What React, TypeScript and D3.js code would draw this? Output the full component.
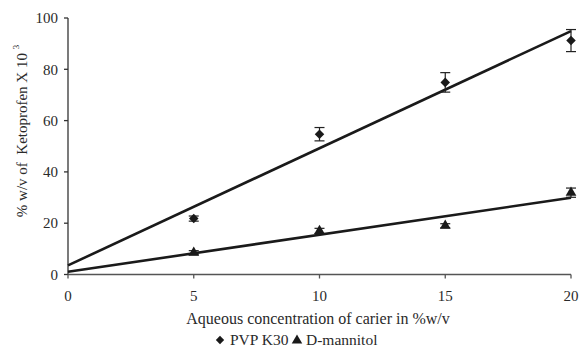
import React from "react";
import * as d3 from "d3";

// Carrier concentration (% w/v)
const concentrations = [5, 10, 15, 20];
// Ketoprofen solubility (% w/v x 10^3), mean and SD
const pvpMeans = [21.8, 54.7, 74.9, 91.2];
const pvpSD = [1.0, 2.6, 3.8, 4.3];
const mannitolMeans = [8.5, 17.0, 19.0, 31.9];
const mannitolSD = [0.8, 1.0, 0.8, 1.8];

const xTicks = [0, 5, 10, 15, 20];
const yTicks = [0, 20, 40, 60, 80, 100];

const W = 581;
const H = 350;
const FONT = "Liberation Serif";
const INK = "#2a2a2a";

// Ordinary least-squares fit, returned as [slope, intercept]
function fit(xs: number[], ys: number[]): [number, number] {
  const mx = d3.mean(xs)!;
  const my = d3.mean(ys)!;
  const sxy = d3.sum(xs, (x, i) => (x - mx) * (ys[i] - my));
  const sxx = d3.sum(xs, (x) => (x - mx) ** 2);
  const b = sxy / sxx;
  return [b, my - b * mx];
}

export default function App() {
  const x = d3.scaleLinear().domain([0, 20]).range([68, 571]);
  const y = d3.scaleLinear().domain([0, 100]).range([274.5, 18]);

  const diamond = d3.symbol().type(d3.symbolDiamond2).size(58)()!;
  const triangle = d3.symbol().type(d3.symbolTriangle).size(50)()!;

  const series = [
    { name: "PVP K30", means: pvpMeans, sd: pvpSD, sym: diamond },
    { name: "D-mannitol", means: mannitolMeans, sd: mannitolSD, sym: triangle },
  ];

  const line = d3
    .line<[number, number]>()
    .x((d) => x(d[0]))
    .y((d) => y(d[1]));

  const txt = { fontFamily: FONT };

  return (
    <svg width={W} height={H} style={{ position: "absolute", left: 0, top: 0, background: "#fff" }}>
      {/* y axis */}
      <line x1={x(0)} x2={x(0)} y1={y(100)} y2={y(0)} stroke="#333" strokeWidth={1.3} />
      {yTicks.map((t) => (
        <g key={"y" + t}>
          <line x1={x(0) - 4} x2={x(0)} y1={y(t)} y2={y(t)} stroke="#333" strokeWidth={1.3} />
          <text x={x(0) - 10} y={y(t)} dy="0.35em" textAnchor="end" fontSize={15} fill={INK} style={txt}>
            {t}
          </text>
        </g>
      ))}
      {/* x axis */}
      <line x1={x(0)} x2={x(20)} y1={y(0)} y2={y(0)} stroke="#555" strokeWidth={1.3} />
      {xTicks.map((t) => (
        <g key={"x" + t}>
          <line x1={x(t)} x2={x(t)} y1={y(0)} y2={y(0) + 4} stroke="#555" strokeWidth={1.3} />
          <text x={x(t)} y={296} dy="0.35em" textAnchor="middle" fontSize={15} fill={INK} style={txt}>
            {t}
          </text>
        </g>
      ))}

      {/* axis titles */}
      <text x={318} y={318} dy="0.35em" textAnchor="middle" fontSize={16} fill={INK} style={txt}>
        Aqueous concentration of carier in %w/v
      </text>
      <text transform={`translate(22,131) rotate(-90)`} dy="0.35em" textAnchor="middle" fontSize={15} fill={INK}
        style={{ ...txt, whiteSpace: "pre" }}>
        {"% w/v of  Ketoprofen X 10 "}
        <tspan fontSize={9} dy="-0.9em">3</tspan>
      </text>

      {/* trend lines and data */}
      {series.map((s) => {
        const [b, a] = fit(concentrations, s.means);
        const ends: [number, number][] = [
          [0, a],
          [20, a + 20 * b],
        ];
        return (
          <g key={s.name}>
            <path d={line(ends)!} stroke="#1a1a1a" strokeWidth={2.6} fill="none" />
            {concentrations.map((c, i) => {
              const cx = x(c);
              const top = y(s.means[i] + s.sd[i]);
              const bot = y(s.means[i] - s.sd[i]);
              return (
                <g key={c}>
                  <line x1={cx} x2={cx} y1={top} y2={bot} stroke="#222" strokeWidth={1.2} />
                  <line x1={cx - 5} x2={cx + 5} y1={top} y2={top} stroke="#222" strokeWidth={1.2} />
                  <line x1={cx - 5} x2={cx + 5} y1={bot} y2={bot} stroke="#222" strokeWidth={1.2} />
                  <path d={s.sym} transform={`translate(${cx},${y(s.means[i])})`} fill="#1a1a1a" />
                </g>
              );
            })}
          </g>
        );
      })}

      {/* legend */}
      <g transform="translate(0,340)">
        <path d={d3.symbol().type(d3.symbolDiamond2).size(44)()!} transform="translate(220,0)" fill="#1a1a1a" />
        <text x={230} dy="0.35em" fontSize={15.5} fill={INK} style={txt}>PVP K30</text>
        <path d={d3.symbol().type(d3.symbolTriangle).size(48)()!} transform="translate(297,0.5)" fill="#1a1a1a" />
        <text x={306} dy="0.35em" fontSize={15.5} fill={INK} style={txt}>D-mannitol</text>
      </g>
    </svg>
  );
}
